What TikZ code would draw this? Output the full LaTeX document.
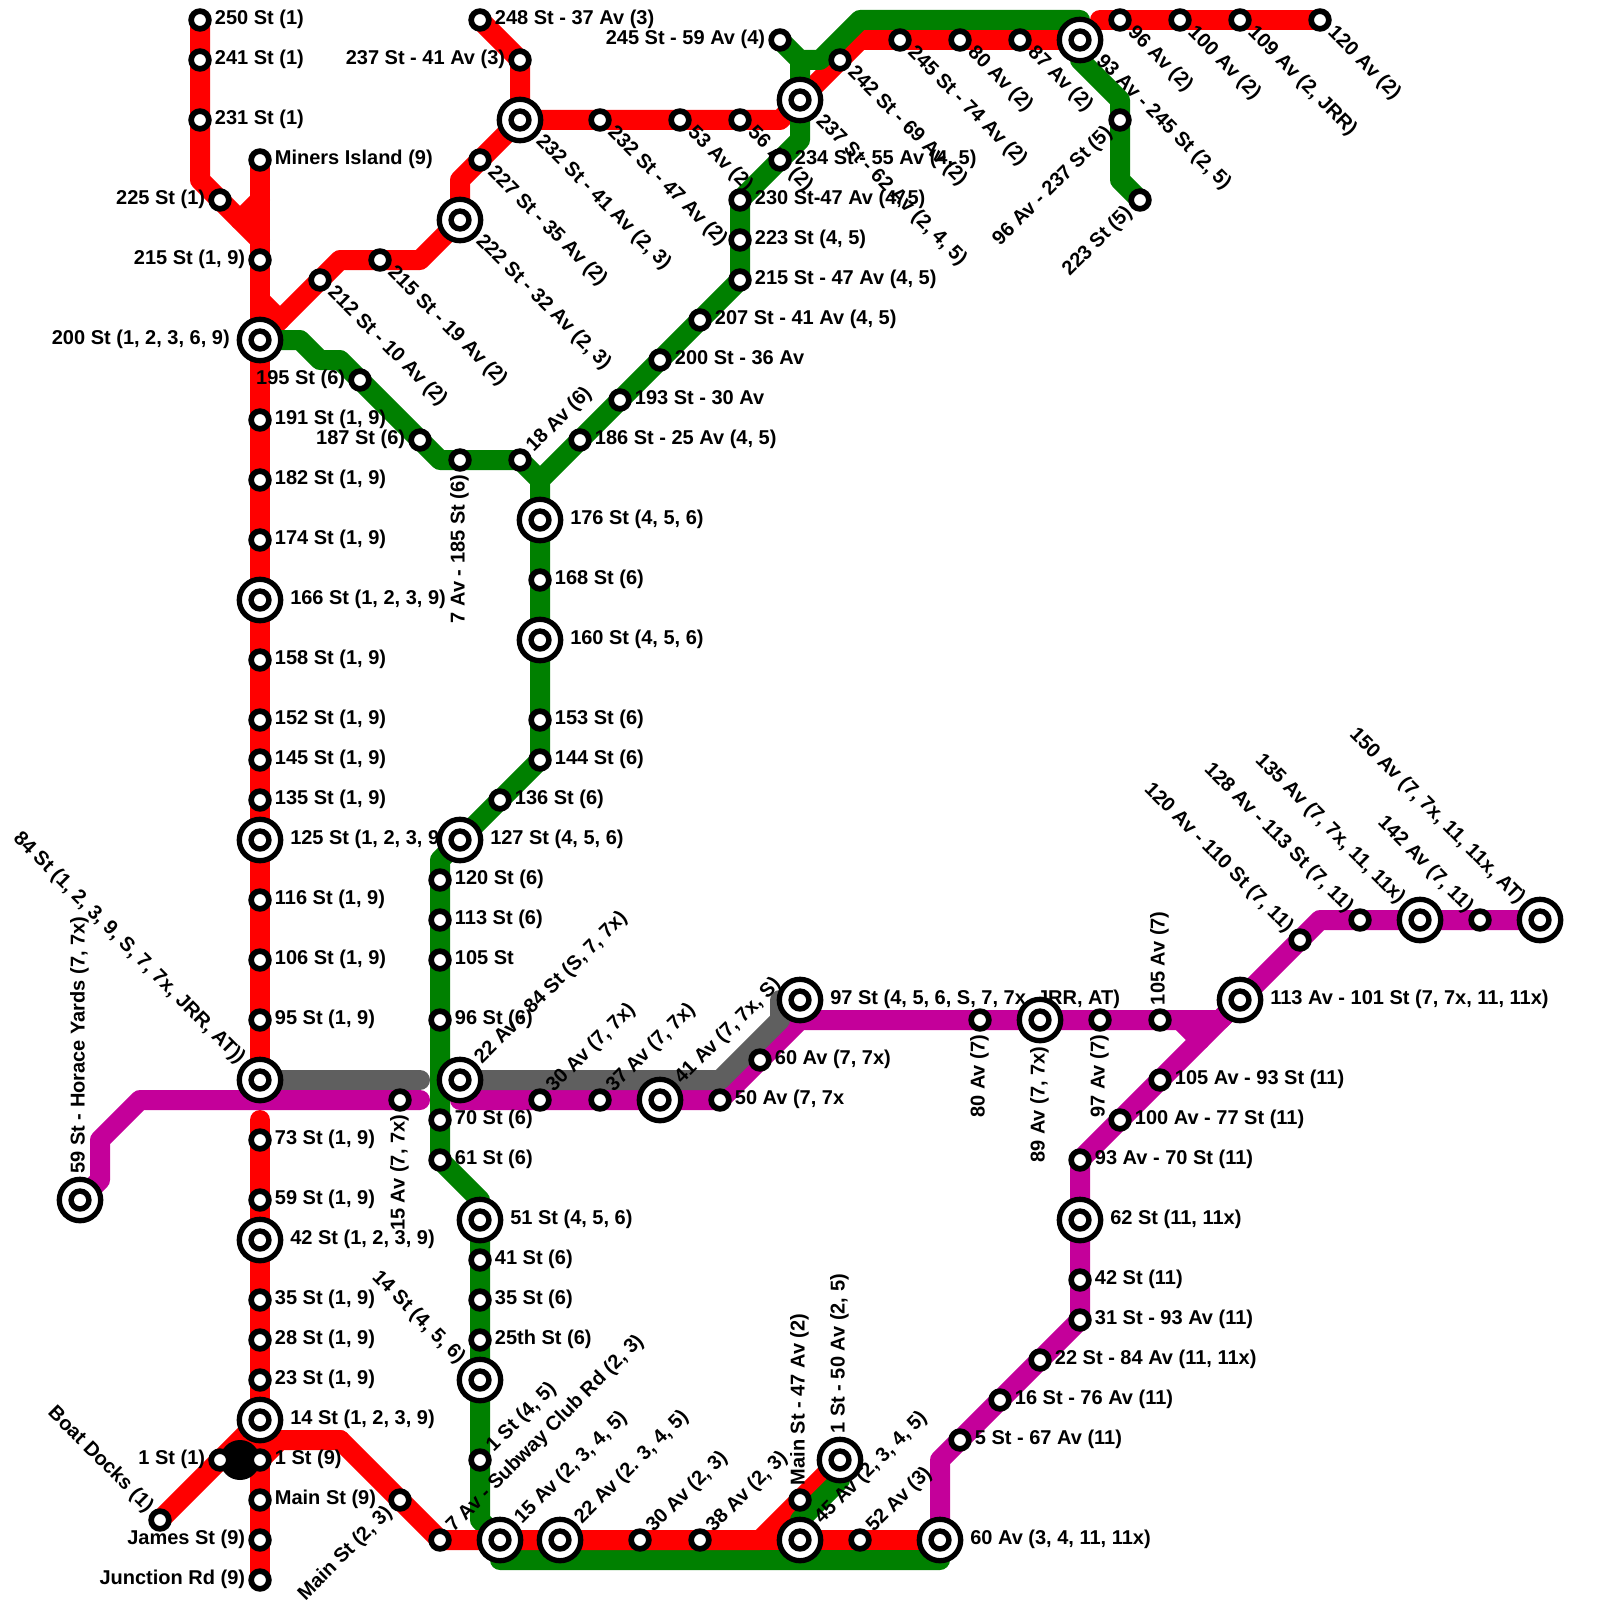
\documentclass[tikz,border=0pt]{standalone}
\usepackage{fontspec}
\newfontfamily\stnfont{Liberation Sans Bold}
\definecolor{lnred}{HTML}{FF0000}
\definecolor{lngrn}{HTML}{008000}
\definecolor{lnprp}{HTML}{C4009A}
\definecolor{lngry}{HTML}{5F5F5F}
\usetikzlibrary{backgrounds}
\tikzset{
  lbl/.style={font=\stnfont\fontsize{20}{23}\selectfont,inner sep=3pt,text height=14pt,text depth=4.6pt},
  hlb/.style={lbl,inner sep=6.7pt},
  stn/.style={circle,draw=black,fill=white,line width=5.7pt,minimum size=17.7pt,inner sep=0pt},
  hub/.style={circle,draw=black,fill=white,line width=5.3pt,minimum size=41.4pt,inner sep=0pt,
    path picture={\fill[black] (path picture bounding box.center) circle (11.7pt);
      \fill[white] (path picture bounding box.center) circle (6pt);}},
  lbe/.style={label={[lbl,anchor=west]0:{#1}}},
  lbw/.style={label={[lbl,anchor=east]180:{#1}}},
  lbu/.style={label={[lbl,rotate=90,anchor=west]90:{#1}}},
  lbd/.style={label={[lbl,rotate=90,anchor=east]-90:{#1}}},
  lbdr/.style={label={[lbl,rotate=-45,anchor=west]-45:{#1}}},
  lbur/.style={label={[lbl,rotate=45,anchor=west]45:{#1}}},
  lbul/.style={label={[lbl,rotate=-45,anchor=east]135:{#1}}},
  lbdl/.style={label={[lbl,rotate=45,anchor=east]225:{#1}}},
  hbe/.style={label={[hlb,anchor=west]0:{#1}}},
  hbw/.style={label={[hlb,anchor=east]180:{#1}}},
  hbu/.style={label={[hlb,rotate=90,anchor=west]90:{#1}}},
  hbd/.style={label={[hlb,rotate=90,anchor=east]-90:{#1}}},
  hbdr/.style={label={[hlb,rotate=-45,anchor=west]-45:{#1}}},
  hbur/.style={label={[hlb,rotate=45,anchor=west]45:{#1}}},
  hbul/.style={label={[hlb,rotate=-45,anchor=east]135:{#1}}},
  rail/.style={line width=20pt,line cap=round,line join=round},
  redln/.style={rail,draw=lnred},
  grnln/.style={rail,draw=lngrn},
  prpln/.style={rail,draw=lnprp},
  gryln/.style={rail,draw=lngry},
}
\begin{document}
\begin{tikzpicture}[x=1pt,y=-1pt]
\useasboundingbox (0,0) rectangle (1600,1600);
\node[circle,fill=black,minimum size=40pt,inner sep=0pt] (blob) at (240,1460) {};
% red, left side
\node[stn,lbe={250 St (1)}] (r250) at (200,20) {};
\node[stn,lbe={241 St (1)}] (r241) at (200,60) {};
\node[stn,lbe={231 St (1)}] (r231) at (200,120) {};
\node[stn,lbw={225 St (1)}] (r225) at (220,200) {};
\node[stn,lbe={Miners Island (9)}] (rminers) at (260,160) {};
\node[stn,lbw={215 St (1, 9)}] (r215) at (260,260) {};
\node[hub,hbw={200 St (1, 2, 3, 6, 9)}] (r200) at (260,340) {};
\node[stn,lbe={191 St (1, 9)}] (r191) at (260,420) {};
\node[stn,lbe={182 St (1, 9)}] (r182) at (260,480) {};
\node[stn,lbe={174 St (1, 9)}] (r174) at (260,540) {};
\node[hub,hbe={166 St (1, 2, 3, 9)}] (r166) at (260,600) {};
\node[stn,lbe={158 St (1, 9)}] (r158) at (260,660) {};
\node[stn,lbe={152 St (1, 9)}] (r152) at (260,720) {};
\node[stn,lbe={145 St (1, 9)}] (r145) at (260,760) {};
\node[stn,lbe={135 St (1, 9)}] (r135) at (260,800) {};
\node[hub,hbe={125 St (1, 2, 3, 9)}] (r125) at (260,840) {};
\node[stn,lbe={116 St (1, 9)}] (r116) at (260,900) {};
\node[stn,lbe={106 St (1, 9)}] (r106) at (260,960) {};
\node[stn,lbe={95 St (1, 9)}] (r95) at (260,1020) {};
\node[hub,lbul={84 St (1, 2, 3, 9, S, 7, 7x, JRR, AT))}] (r84) at (260,1080) {};
\node[stn,lbe={73 St (1, 9)}] (r73) at (260,1140) {};
\node[stn,lbe={59 St (1, 9)}] (r59) at (260,1200) {};
\node[hub,hbe={42 St (1, 2, 3, 9)}] (r42) at (260,1240) {};
\node[stn,lbe={35 St (1, 9)}] (r35) at (260,1300) {};
\node[stn,lbe={28 St (1, 9)}] (r28) at (260,1340) {};
\node[stn,lbe={23 St (1, 9)}] (r23) at (260,1380) {};
\node[hub,hbe={14 St (1, 2, 3, 9)}] (r14) at (260,1420) {};
\node[stn,lbe={1 St (9)}] (r1n) at (260,1460) {};
\node[stn,lbe={Main St (9)}] (rmain) at (260,1500) {};
\node[stn,lbw={James St (9)}] (rjames) at (260,1540) {};
\node[stn,lbw={Junction Rd (9)}] (rjunc) at (260,1580) {};
\node[stn,lbw={1 St (1)}] (r1w) at (220,1460) {};
\node[stn,lbul={Boat Docks (1)}] (rboat) at (160,1520) {};
% red, top
\node[stn,lbdr={212 St - 10 Av (2)}] (t212) at (320,280) {};
\node[stn,lbdr={215 St - 19 Av (2)}] (t215) at (380,260) {};
\node[hub,lbdr={222 St - 32 Av (2, 3)}] (t222) at (460,220) {};
\node[stn,lbdr={227 St - 35 Av (2)}] (t227) at (480,160) {};
\node[hub,lbdr={232 St - 41 Av (2, 3)}] (t232) at (520,120) {};
\node[stn,lbw={237 St - 41 Av (3)}] (t237) at (520,60) {};
\node[stn,lbe={248 St - 37 Av (3)}] (t248) at (480,20) {};
\node[stn,lbdr={232 St - 47 Av (2)}] (t232b) at (600,120) {};
\node[stn,lbdr={53 Av (2)}] (t53) at (680,120) {};
\node[stn,lbdr={56 Av (2)}] (t56) at (740,120) {};
\node[hub,lbdr={237 St - 62 Av (2, 4, 5)}] (t237b) at (800,100) {};
\node[stn,lbdr={242 St - 69 Av (2)}] (t242) at (840,60) {};
\node[stn,lbdr={245 St - 74 Av (2)}] (t245) at (900,40) {};
\node[stn,lbdr={80 Av (2)}] (t80) at (960,40) {};
\node[stn,lbdr={87 Av (2)}] (t87) at (1020,40) {};
\node[hub,lbdr={93 Av - 245 St (2, 5)}] (t93) at (1080,40) {};
\node[stn,lbdr={96 Av (2)}] (t96) at (1120,20) {};
\node[stn,lbdr={100 Av (2)}] (t100) at (1180,20) {};
\node[stn,lbdr={109 Av (2, JRR)}] (t109) at (1240,20) {};
\node[stn,lbdr={120 Av (2)}] (t120) at (1320,20) {};
% red, bottom
\node[stn,lbdl={Main St (2, 3)}] (bmain) at (400,1500) {};
\node[stn,lbur={7 Av - Subway Club Rd (2, 3)}] (b7) at (440,1540) {};
\node[hub,lbur={15 Av (2, 3, 4, 5)}] (b15) at (500,1540) {};
\node[hub,lbur={22 Av (2. 3, 4, 5)}] (b22) at (560,1540) {};
\node[stn,lbur={30 Av (2, 3)}] (b30) at (640,1540) {};
\node[stn,lbur={38 Av (2, 3)}] (b38) at (700,1540) {};
\node[stn,lbu={Main St - 47 Av (2)}] (bmain47) at (800,1500) {};
\node[hub,lbu={1 St - 50 Av (2, 5)}] (b1st) at (840,1460) {};
\node[hub,lbur={45 Av (2, 3, 4, 5)}] (b45) at (800,1540) {};
\node[stn,lbur={52 Av (3)}] (b52) at (860,1540) {};
\node[hub,hbe={60 Av (3, 4, 11, 11x)}] (b60) at (940,1540) {};
% green
\node[stn,lbw={245 St - 59 Av (4)}] (g245) at (780,40) {};
\node[stn,lbe={234 St - 55 Av (4, 5)}] (g234) at (780,160) {};
\node[stn,lbe={230 St-47 Av (4, 5)}] (g230) at (740,200) {};
\node[stn,lbe={223 St (4, 5)}] (g223) at (740,240) {};
\node[stn,lbe={215 St - 47 Av (4, 5)}] (g215) at (740,280) {};
\node[stn,lbe={207 St - 41 Av (4, 5)}] (g207) at (700,320) {};
\node[stn,lbe={200 St - 36 Av}] (g200) at (660,360) {};
\node[stn,lbe={193 St - 30 Av}] (g193) at (620,400) {};
\node[stn,lbe={186 St - 25 Av (4, 5)}] (g186) at (580,440) {};
\node[stn,lbdl={96 Av - 237 St (5)}] (g96) at (1120,120) {};
\node[stn,lbdl={223 St (5)}] (g223b) at (1140,200) {};
\node[stn,lbw={195 St (6)}] (g195) at (360,380) {};
\node[stn,lbw={187 St (6)}] (g187) at (420,440) {};
\node[stn,lbd={7 Av - 185 St (6)}] (g185) at (460,460) {};
\node[stn,lbur={18 Av (6)}] (g18) at (520,460) {};
\node[hub,hbe={176 St (4, 5, 6)}] (g176) at (540,520) {};
\node[stn,lbe={168 St (6)}] (g168) at (540,580) {};
\node[hub,hbe={160 St (4, 5, 6)}] (g160) at (540,640) {};
\node[stn,lbe={153 St (6)}] (g153) at (540,720) {};
\node[stn,lbe={144 St (6)}] (g144) at (540,760) {};
\node[stn,lbe={136 St (6)}] (g136) at (500,800) {};
\node[hub,hbe={127 St (4, 5, 6)}] (g127) at (460,840) {};
\node[stn,lbe={120 St (6)}] (g120) at (440,880) {};
\node[stn,lbe={113 St (6)}] (g113) at (440,920) {};
\node[stn,lbe={105 St}] (g105) at (440,960) {};
\node[stn,lbe={96 St (6)}] (g96s) at (440,1020) {};
\node[stn,lbe={70 St (6)}] (g70) at (440,1120) {};
\node[stn,lbe={61 St (6)}] (g61) at (440,1160) {};
\node[hub,hbe={51 St (4, 5, 6)}] (g51) at (480,1220) {};
\node[stn,lbe={41 St (6)}] (g41) at (480,1260) {};
\node[stn,lbe={35 St (6)}] (g35) at (480,1300) {};
\node[stn,lbe={25th St (6)}] (g25) at (480,1340) {};
\node[hub,lbul={14 St (4, 5, 6)}] (g14) at (480,1380) {};
\node[stn,lbur={1 St (4, 5)}] (g1) at (480,1460) {};
% purple
\node[hub,lbu={59 St - Horace Yards (7, 7x)}] (p59) at (80,1200) {};
\node[stn,lbd={15 Av (7, 7x)}] (p15) at (400,1100) {};
\node[hub,lbur={22 Av - 84 St (S, 7, 7x)}] (p22) at (460,1080) {};
\node[stn,lbur={30 Av (7, 7x)}] (p30) at (540,1100) {};
\node[stn,lbur={37 Av (7, 7x)}] (p37) at (600,1100) {};
\node[hub,lbur={41 Av (7, 7x, S)}] (p41) at (660,1100) {};
\node[stn,lbe={50 Av (7, 7x}] (p50) at (720,1100) {};
\node[stn,lbe={60 Av (7, 7x)}] (p60) at (760,1060) {};
\node[hub,hbe={97 St (4, 5, 6, S, 7, 7x, JRR, AT)}] (p97s) at (800,1000) {};
\node[stn,lbd={80 Av (7)}] (p80) at (980,1020) {};
\node[hub,lbd={89 Av (7, 7x)}] (p89) at (1040,1020) {};
\node[stn,lbd={97 Av (7)}] (p97) at (1100,1020) {};
\node[stn,lbu={105 Av (7)}] (p105) at (1160,1020) {};
\node[hub,hbe={113 Av - 101 St (7, 7x, 11, 11x)}] (p113) at (1240,1000) {};
\node[stn,lbul={120 Av - 110 St (7, 11)}] (p120) at (1300,940) {};
\node[stn,lbul={128 Av - 113 St (7, 11)}] (p128) at (1360,920) {};
\node[hub,lbul={135 Av (7, 7x, 11, 11x)}] (p135) at (1420,920) {};
\node[stn,lbul={142 Av (7, 11)}] (p142) at (1480,920) {};
\node[hub,lbul={150 Av (7, 7x, 11, 11x, AT)}] (p150) at (1540,920) {};
\node[stn,lbe={105 Av - 93 St (11)}] (p105b) at (1160,1080) {};
\node[stn,lbe={100 Av - 77 St (11)}] (p100) at (1120,1120) {};
\node[stn,lbe={93 Av - 70 St (11)}] (p93) at (1080,1160) {};
\node[hub,hbe={62 St (11, 11x)}] (p62) at (1080,1220) {};
\node[stn,lbe={42 St (11)}] (p42) at (1080,1280) {};
\node[stn,lbe={31 St - 93 Av (11)}] (p31) at (1080,1320) {};
\node[stn,lbe={22 St - 84 Av (11, 11x)}] (p22s) at (1040,1360) {};
\node[stn,lbe={16 St - 76 Av (11)}] (p16) at (1000,1400) {};
\node[stn,lbe={5 St - 67 Av (11)}] (p5) at (960,1440) {};
% bends
\coordinate (c1) at (200,180);
\coordinate (c2) at (240,220);
\coordinate (c3) at (260,200);
\coordinate (c4) at (260,240);
\coordinate (c5) at (260,300);
\coordinate (c6) at (280,320);
\coordinate (c7) at (340,260);
\coordinate (c8) at (420,260);
\coordinate (c9) at (460,180);
\coordinate (c10) at (780,120);
\coordinate (c11) at (860,40);
\coordinate (c12) at (1100,20);
\coordinate (c13) at (280,1440);
\coordinate (c14) at (340,1440);
\coordinate (c15) at (260,1440);
\coordinate (c16) at (760,1540);
\coordinate (c17) at (260,1080);
\coordinate (c18) at (260,1120);
\coordinate (g1c) at (800,60);
\coordinate (g2c) at (820,60);
\coordinate (g3c) at (860,20);
\coordinate (g4c) at (1080,20);
\coordinate (g5c) at (1080,60);
\coordinate (g6c) at (1120,100);
\coordinate (g7c) at (1120,180);
\coordinate (g8c) at (800,140);
\coordinate (g9c) at (540,480);
\coordinate (g10c) at (300,340);
\coordinate (g11c) at (320,360);
\coordinate (g12c) at (340,360);
\coordinate (g13c) at (440,460);
\coordinate (g14c) at (440,860);
\coordinate (g15c) at (480,1200);
\coordinate (g16c) at (480,1520);
\coordinate (g17c) at (500,1560);
\coordinate (g18c) at (940,1560);
\coordinate (g19c) at (800,1520);
\coordinate (g20c) at (840,1480);
\coordinate (p1c) at (100,1180);
\coordinate (p2c) at (100,1140);
\coordinate (p3c) at (140,1100);
\coordinate (p4c) at (420,1100);
\coordinate (p5c) at (460,1100);
\coordinate (p6c) at (800,1020);
\coordinate (p7c) at (1220,1020);
\coordinate (p8c) at (1180,1020);
\coordinate (p9c) at (1200,1040);
\coordinate (p10c) at (1320,920);
\coordinate (p11c) at (940,1460);
\coordinate (p12c) at (420,1080);
\coordinate (p13c) at (720,1080);
\coordinate (p14c) at (780,1020);
\coordinate (p15c) at (780,1000);
\begin{scope}[on background layer]
\draw[redln] (r250.center) -- (r241.center) -- (r231.center) -- (c1) -- (r225.center) -- (c2) -- (c4);
\draw[redln] (c2) -- (c3);
\draw[redln] (rminers.center) -- (r215.center) -- (c17);
\draw[redln] (c18) -- (r73.center) -- (rjunc.center);
\draw[redln] (c5) -- (c6);
\draw[redln] (r200.center) -- (t212.center) -- (c7) -- (t215.center) -- (c8) -- (t222.center) -- (c9) -- (t227.center) -- (t232.center) -- (t237.center) -- (t248.center);
\draw[redln] (t232.center) -- (c10) -- (t237b.center) -- (t242.center) -- (c11) -- (t93.center);
\draw[redln] (c12) -- (t120.center);
\draw[grnln] (g245.center) -- (g1c) -- (g2c) -- (g3c) -- (g4c) -- (g5c) -- (g6c) -- (g96.center) -- (g7c) -- (g223b.center);
\draw[grnln] (g1c) -- (g8c) -- (g230.center) -- (g215.center) -- (g9c) -- (g144.center) -- (g127.center) -- (g14c) -- (g61.center) -- (g15c) -- (g16c) -- (b15.center) -- (g17c) -- (g18c) -- (b60.center);
\draw[grnln] (r200.center) -- (g10c) -- (g11c) -- (g12c) -- (g13c) -- (g18.center) -- (g9c);
\draw[redln] (rboat.center) -- (r14.center);
\draw[redln] (r1n.center) -- (c13) -- (c14) -- (b7.center) -- (c16) -- (b1st.center);
\draw[redln] (c15) -- (c14);
\draw[redln] (b7.center) -- (b60.center);
\draw[grnln] (b45.center) -- (g19c) -- (g20c) -- (b1st.center);
\draw[prpln] (p59.center) -- (p1c) -- (p2c) -- (p3c) -- (p4c);
\draw[prpln] (p5c) -- (p50.center) -- (p6c) -- (p7c) -- (p113.center) -- (p10c) -- (p150.center);
\draw[prpln] (p8c) -- (p9c);
\draw[prpln] (p113.center) -- (p93.center) -- (p31.center) -- (p11c) -- (b60.center);
\draw[gryln] (r84.center) -- (p12c);
\draw[gryln] (p22.center) -- (p13c) -- (p14c) -- (p15c) -- (p97s.center);
\end{scope}
\end{tikzpicture}
\end{document}
